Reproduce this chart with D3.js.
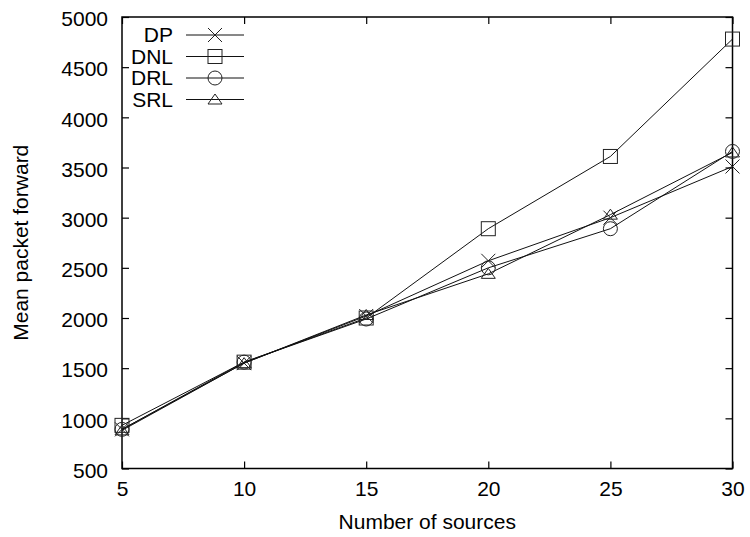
<!DOCTYPE html>
<html>
<head>
<meta charset="utf-8">
<script src="https://cdn.jsdelivr.net/npm/d3@7"></script>
<style>
  html, body { margin: 0; padding: 0; background: #fff; }
  svg { display: block; font-family: "Liberation Sans", Arial, sans-serif; }
</style>
</head>
<body>
<svg id="chart" width="750" height="537"></svg>
<script>
// Number of sources on the x axis
const sources = [5, 10, 15, 20, 25, 30];

// Mean packet forward per protocol
const dpValues  = [890, 1550, 2020, 2570, 3000, 3510];
const dnlValues = [930, 1560, 2000, 2890, 3610, 4780];
const drlValues = [890, 1560, 1990, 2500, 2890, 3660];
const srlValues = [880, 1550, 2030, 2440, 3030, 3650];

const seriesNames = ["DP", "DNL", "DRL", "SRL"];
const seriesMarks = ["cross", "square", "circle", "triangle"];

const xTicks = [5, 10, 15, 20, 25, 30];
const yTicks = [500, 1000, 1500, 2000, 2500, 3000, 3500, 4000, 4500, 5000];

const series = [dpValues, dnlValues, drlValues, srlValues].map((vals, i) => ({
  name: seriesNames[i],
  mark: seriesMarks[i],
  points: sources.map((s, j) => ({ x: s, y: vals[j] }))
}));

const svg = d3.select("#chart");
const plotLeft = 122, plotRight = 732.5, plotTop = 17, plotBottom = 468.5;

const x = d3.scaleLinear().domain([5, 30]).range([plotLeft, plotRight]);
const y = d3.scaleLinear().domain([500, 5000]).range([plotBottom, plotTop]);

const fontSize = 21;
const tickLen = 7;
const ink = "#000";
const plain = d3.format("d");

// Axes with inward ticks on all four sides
const axisG = svg.append("g");
const bottomAxis = axisG.append("g").attr("transform", `translate(0,${plotBottom})`)
  .call(d3.axisBottom(x).tickValues(xTicks).tickFormat(plain).tickSizeInner(-tickLen).tickSizeOuter(0).tickPadding(13));
axisG.append("g").attr("transform", `translate(0,${plotTop})`)
  .call(d3.axisTop(x).tickValues(xTicks).tickSizeInner(-tickLen).tickSizeOuter(0).tickFormat(""));
const leftAxis = axisG.append("g").attr("transform", `translate(${plotLeft},0)`)
  .call(d3.axisLeft(y).tickValues(yTicks).tickFormat(plain).tickSizeInner(-tickLen).tickSizeOuter(0).tickPadding(14));
axisG.append("g").attr("transform", `translate(${plotRight},0)`)
  .call(d3.axisRight(y).tickValues(yTicks).tickSizeInner(-tickLen).tickSizeOuter(0).tickFormat(""));

axisG.selectAll(".domain").remove();
axisG.selectAll(".tick line").attr("stroke", ink).attr("stroke-width", 1.2);
axisG.selectAll("text")
  .attr("font-family", "Liberation Sans, Arial, sans-serif")
  .attr("font-size", fontSize)
  .attr("fill", ink);
bottomAxis.selectAll("text").attr("dy", "0.71em");
leftAxis.selectAll("text").attr("dy", "0.42em");

// Plot frame
svg.append("rect")
  .attr("x", plotLeft).attr("y", plotTop)
  .attr("width", plotRight - plotLeft).attr("height", plotBottom - plotTop)
  .attr("fill", "none").attr("stroke", ink).attr("stroke-width", 1.5);

// Axis titles
svg.append("text")
  .attr("x", (plotLeft + plotRight) / 2).attr("y", 529)
  .attr("text-anchor", "middle")
  .attr("font-size", fontSize).attr("fill", ink)
  .text("Number of sources");
svg.append("text")
  .attr("transform", `translate(28,${(plotTop + plotBottom) / 2}) rotate(-90)`)
  .attr("text-anchor", "middle")
  .attr("font-size", fontSize).attr("fill", ink)
  .text("Mean packet forward");

// Marker shapes (unfilled, gnuplot style)
function drawMark(g, kind, cx, cy) {
  const s = 7;
  let el;
  if (kind === "cross") {
    el = g.append("path").attr("d", `M${cx - s},${cy - s}L${cx + s},${cy + s}M${cx - s},${cy + s}L${cx + s},${cy - s}`);
  } else if (kind === "square") {
    el = g.append("rect").attr("x", cx - s).attr("y", cy - s).attr("width", 2 * s).attr("height", 2 * s);
  } else if (kind === "circle") {
    el = g.append("circle").attr("cx", cx).attr("cy", cy).attr("r", s);
  } else {
    el = g.append("path").attr("d", `M${cx},${cy - 5.5}L${cx + s},${cy + 4.5}L${cx - s},${cy + 4.5}Z`);
  }
  el.attr("stroke", "#222").attr("stroke-width", 1).attr("fill", "none");
}

const line = d3.line().x(d => x(d.x)).y(d => y(d.y));
const plot = svg.append("g");

series.forEach(s => {
  const g = plot.append("g");
  g.append("path")
    .datum(s.points)
    .attr("d", line)
    .attr("fill", "none")
    .attr("stroke", "#111")
    .attr("stroke-width", 1);
  s.points.forEach(p => drawMark(g, s.mark, x(p.x), y(p.y)));
});

// Legend
const legend = svg.append("g");
const legendRowY = [35, 56.5, 78, 99.5];
series.forEach((s, i) => {
  const ly = legendRowY[i];
  legend.append("text")
    .attr("x", 173).attr("y", ly)
    .attr("dy", "0.35em")
    .attr("text-anchor", "end")
    .attr("font-size", fontSize).attr("fill", ink)
    .text(s.name);
  legend.append("line")
    .attr("x1", 186).attr("x2", 244)
    .attr("y1", ly).attr("y2", ly)
    .attr("stroke", "#111").attr("stroke-width", 1);
  drawMark(legend, s.mark, 215, ly);
});
</script>
</body>
</html>
